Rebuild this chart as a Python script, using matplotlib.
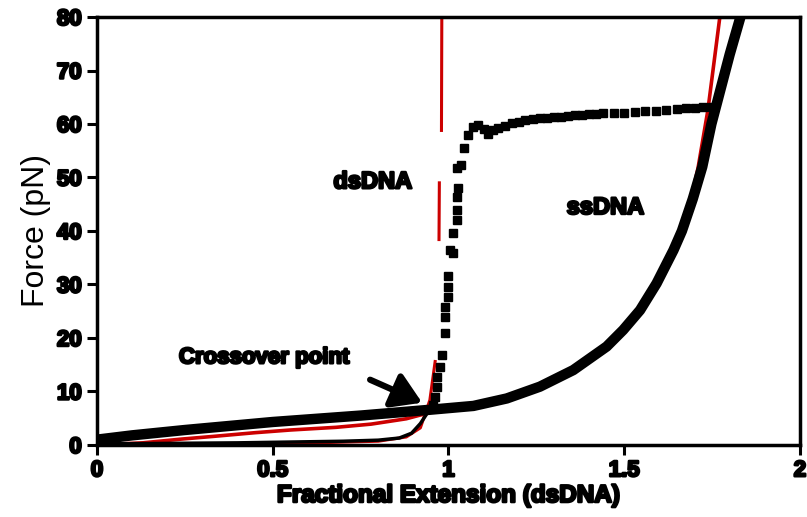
import numpy as np
import matplotlib
matplotlib.use('Agg')
import matplotlib.pyplot as plt
import matplotlib.patheffects as pe

plt.rcParams['font.family'] = ['Liberation Sans', 'DejaVu Sans']

# relaxation curve (thick black band, ssDNA)
relax_x = [0.0, 0.1, 0.25, 0.5, 0.75, 0.95, 1.071, 1.166, 1.26, 1.355, 1.45, 1.497, 1.545, 1.592,
           1.64, 1.664, 1.695, 1.722, 1.748, 1.772, 1.80, 1.835]
relax_f = [1.0, 1.8, 2.8, 4.3, 5.5, 6.6, 7.3, 8.7, 10.9, 14.0, 18.4, 21.5, 25.2, 30.2,
           36.4, 40.0, 46.0, 52.0, 60.0, 66.0, 73.0, 81.0]

# extension curve, low force part (thin black line)
ext_low_x = [0.0, 0.4, 0.7, 0.8, 0.86, 0.895, 0.92, 0.94, 0.957]
ext_low_f = [0.2, 0.4, 0.7, 0.9, 1.3, 2.2, 4.0, 6.0, 7.5]

# extension curve, transition + overstretching plateau (square dots)
ext_x = [0.957, 0.962, 0.966, 0.966, 0.976, 0.981, 0.99, 0.99, 0.99, 1.0, 1.0, 1.0,
         1.004, 1.014, 1.014, 1.023, 1.023, 1.023, 1.028, 1.023, 1.037, 1.045, 1.056,
         1.07, 1.085, 1.1, 1.113, 1.128, 1.142, 1.16, 1.18, 1.2, 1.218, 1.24, 1.26,
         1.28, 1.3, 1.32, 1.34, 1.36, 1.38, 1.4, 1.42, 1.44, 1.47, 1.5, 1.53, 1.56,
         1.59, 1.62, 1.65, 1.675, 1.70, 1.725, 1.75]
ext_f = [7.5, 9.0, 10.9, 12.8, 14.6, 16.8, 20.9, 24.0, 25.8, 27.7, 29.5, 31.5,
         36.4, 35.8, 39.6, 42.0, 43.9, 46.4, 48.0, 51.7, 52.3, 55.5, 57.9,
         59.5, 59.8, 59.0, 58.2, 58.8, 59.2, 59.7, 60.1, 60.4, 60.7, 60.9, 61.1,
         61.2, 61.3, 61.4, 61.5, 61.6, 61.7, 61.8, 61.9, 62.0, 62.1, 62.1, 62.2, 62.4,
         62.5, 62.6, 62.8, 62.9, 63.0, 63.1, 63.2]

# model fits (red)
wlc_x = [0.0, 0.5, 0.8, 0.88, 0.92, 0.947, 0.962, np.nan, 0.973, 0.974, np.nan, 0.98, 0.981]
wlc_f = [0.0, 0.2, 0.7, 1.5, 3.2, 8.4, 15.6, np.nan, 38.4, 49.0, np.nan, 58.8, 80.0]

ss_x = [0.0, 0.13, 0.24, 0.33, 0.45, 0.55, 0.68, 0.78, 0.88, 0.96, 1.1, 1.26, 1.4, 1.5,
        1.6, 1.68, 1.71, 1.738, 1.772]
ss_f = [0.0, 0.4, 1.1, 1.6, 2.3, 2.8, 3.3, 3.9, 4.9, 6.3, 7.9, 11.2, 16.0, 21.5,
        31.0, 43.0, 51.8, 62.6, 80.0]

xticks = [0, 0.5, 1, 1.5, 2]
xticklabels = ['0', '0.5', '1', '1.5', '2']
yticks = [0, 10, 20, 30, 40, 50, 60, 70, 80]

heavy = [pe.withStroke(linewidth=1.8, foreground='black')]

fig = plt.figure(figsize=(8.07, 5.17), dpi=100)
ax = fig.add_axes([0.1202, 0.1393, 0.8711, 0.8278])

ax.plot(wlc_x, wlc_f, color='#cc0000', lw=2.2, zorder=1)
ax.plot(ss_x, ss_f, color='#cc0000', lw=2.6, zorder=1)
ax.plot(ext_low_x, ext_low_f, color='black', lw=2.5, zorder=2)
ax.plot(relax_x, relax_f, color='black', lw=7.5, solid_capstyle='butt', zorder=2)
ax.plot(ext_x, ext_f, ls='none', marker='s', ms=5.5, color='black', zorder=3)

ax.set_xlim(0, 2)
ax.set_ylim(0, 80)
ax.set_xticks(xticks)
ax.set_xticklabels(xticklabels)
ax.set_yticks(yticks)

for s in ax.spines.values():
    s.set_linewidth(2.5)
ax.tick_params(direction='out', length=7, width=2.2, labelsize=16, pad=4)
for lab in ax.get_xticklabels() + ax.get_yticklabels():
    lab.set_fontweight('bold')
    lab.set_path_effects(heavy)

ax.set_ylabel('Force (pN)', fontsize=23, labelpad=4)
ax.set_xlabel('Fractional Extension (dsDNA)', fontsize=17.5, fontweight='bold', labelpad=2,
              path_effects=heavy)

ax.text(0.785, 49.2, 'dsDNA', fontsize=17, fontweight='bold', ha='center', va='center',
        path_effects=heavy)
ax.text(1.447, 44.4, 'ssDNA', fontsize=17, fontweight='bold', ha='center', va='center',
        path_effects=heavy)
ax.text(0.475, 16.3, 'Crossover point', fontsize=16, fontweight='bold', ha='center',
        va='center', path_effects=heavy)
ax.annotate('', xy=(0.925, 7.9), xytext=(0.777, 12.2),
            arrowprops=dict(arrowstyle='-|>,head_length=0.8,head_width=0.5', lw=4.5,
                            mutation_scale=22, color='black', shrinkA=0, shrinkB=0))

fig.savefig('out.png', dpi=100)
